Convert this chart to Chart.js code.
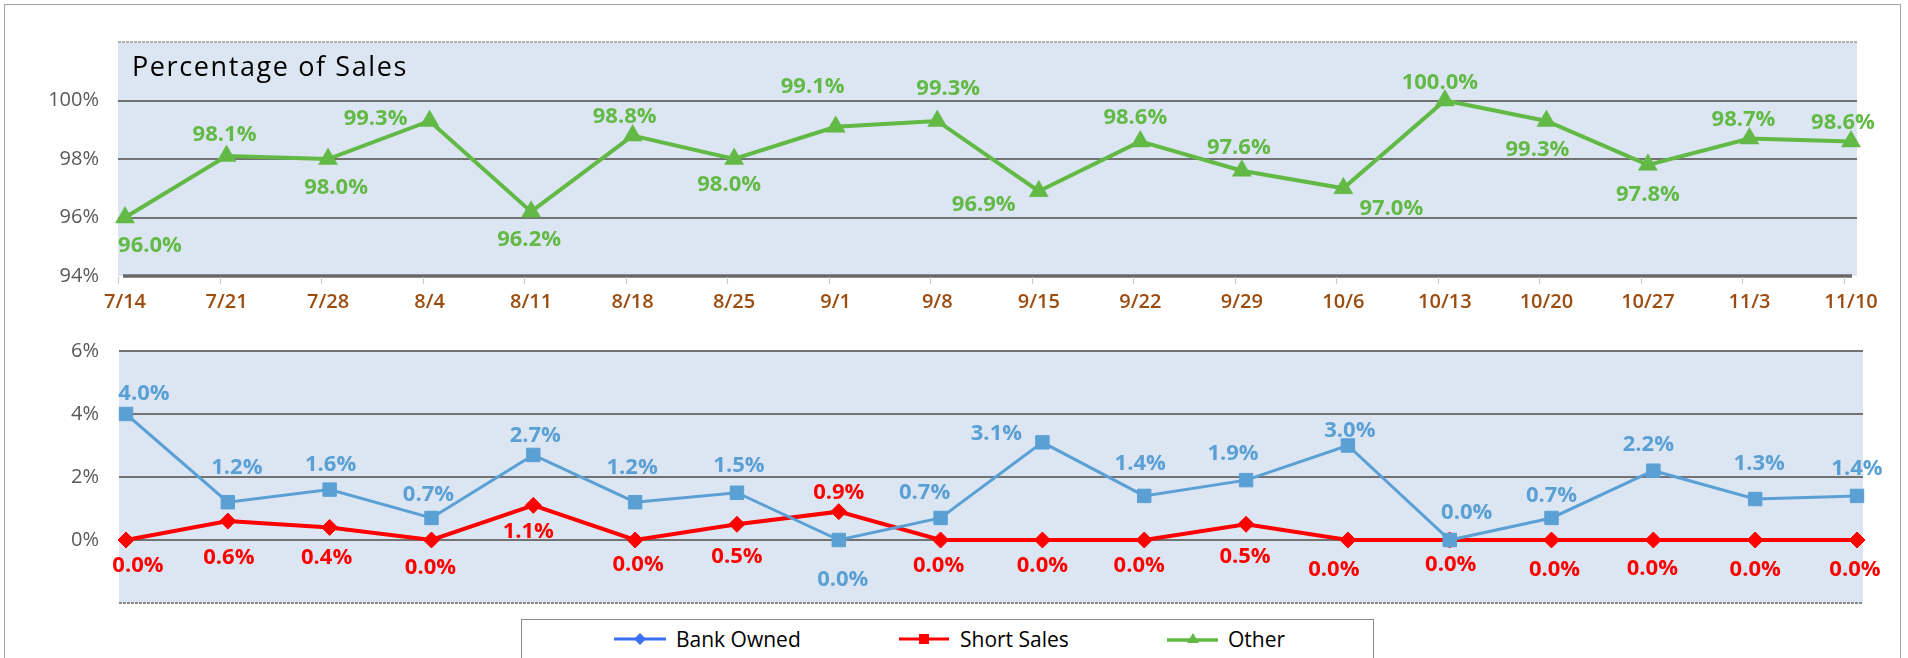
<!DOCTYPE html>
<html>
<head>
<meta charset="utf-8">
<script src="https://cdn.jsdelivr.net/npm/chart.js@4.4.0/dist/chart.umd.min.js"></script>
<style>
  html, body { margin:0; padding:0; background:#fff; width:1908px; height:658px; overflow:hidden; font-family:"Open Sans", sans-serif; }
  #frame { position:absolute; left:4px; top:4px; width:1897px; height:720px; border:1.5px solid #a3a3a3; box-sizing:border-box; }
  .wrap { position:absolute; left:0; width:1908px; }
  #topWrap { top:0; height:330px; }
  #botWrap { top:290px; height:368px; }
  #legend { position:absolute; left:521px; top:619px; width:853px; height:70px; border:1.5px solid #8c8c8c; background:#fff; box-sizing:border-box; }
  .item { position:absolute; top:624px; height:30px; display:flex; align-items:center; font-size:21px; color:#000; white-space:nowrap; }
  .item svg { display:block; }
</style>
</head>
<body>
<div id="frame"></div>
<div class="wrap" id="topWrap"><canvas id="topChart" width="1908" height="330"></canvas></div>
<div class="wrap" id="botWrap"><canvas id="botChart" width="1908" height="368"></canvas></div>
<div id="legend"></div>
<div class="item" style="left:614px;">
  <svg width="52" height="14" viewBox="0 0 52 14"><line x1="0" y1="7" x2="52" y2="7" stroke="#3C6DF5" stroke-width="3"/><polygon points="26,1 32,7 26,13 20,7" fill="#3C6DF5"/></svg>
  <span style="margin-left:10px">Bank Owned</span>
</div>
<div class="item" style="left:899px;">
  <svg width="50" height="14" viewBox="0 0 50 14"><line x1="0" y1="7" x2="50" y2="7" stroke="#FF0000" stroke-width="3"/><rect x="20" y="2" width="10" height="10" fill="#FF0000"/></svg>
  <span style="margin-left:11px">Short Sales</span>
</div>
<div class="item" style="left:1167px;">
  <svg width="51" height="14" viewBox="0 0 51 14"><line x1="0" y1="8" x2="51" y2="8" stroke="#62B946" stroke-width="3.5"/><polygon points="26,1 32,11 20,11" fill="#62B946"/></svg>
  <span style="margin-left:10px">Other</span>
</div>

<script>
// ---------- data ----------
const weeks = ['7/14','7/21','7/28','8/4','8/11','8/18','8/25','9/1','9/8','9/15','9/22','9/29','10/6','10/13','10/20','10/27','11/3','11/10'];
const otherPct = [96.0, 98.1, 98.0, 99.3, 96.2, 98.8, 98.0, 99.1, 99.3, 96.9, 98.6, 97.6, 97.0, 100.0, 99.3, 97.8, 98.7, 98.6];
const bankOwnedPct = [4.0, 1.2, 1.6, 0.7, 2.7, 1.2, 1.5, 0.0, 0.7, 3.1, 1.4, 1.9, 3.0, 0.0, 0.7, 2.2, 1.3, 1.4];
const shortSalesPct = [0.0, 0.6, 0.4, 0.0, 1.1, 0.0, 0.5, 0.9, 0.0, 0.0, 0.0, 0.5, 0.0, 0.0, 0.0, 0.0, 0.0, 0.0];
const topTickValues = [94, 96, 98, 100];
const bottomTickValues = [0, 2, 4, 6];
const chartTitle = 'Percentage of Sales';

// label placement (pixel offsets of each value label from its point)
const otherLabelDx = [25,-2,8,-54,-2,-8,-5,-23,11,-55,-5,-3,48,-5,-9,0,-6,-8];
const otherLabelDy = [26,-23,27,-4,26,-21,24,-42,-34,12,-25,-25,19,-20,27,28,-21,-20];
const bankLabelDx = [18,9,1,-3,2,-3,2,4,-16,-46,-4,-13,2,17,0,-5,4,0];
const bankLabelDy = [-22,-36,-27,-25,-21,-36,-29,38,-27,-10,-34,-28,-17,-29,-24,-28,-37,-29];
const shortLabelDx = [12,1,-3,-1,-5,3,0,0,-2,0,-5,-1,-14,1,3,-1,0,-2];
const shortLabelDy = [24,35,29,26,25,23,31,-21,24,24,24,31,28,23,28,27,28,28];

const GREEN = '#62B946', BLUE = '#5BA0D5', RED = '#FF0000';
const FONT = '"Open Sans", sans-serif';

// ---------- plugins ----------
const plotDecor = (opts) => ({
  id: 'plotDecor',
  beforeDraw(chart) {
    const {ctx, chartArea: a} = chart;
    const y = chart.scales.y;
    const L = a.left - 7, R = a.right + opts.rightExt;
    ctx.save();
    ctx.fillStyle = '#DCE6F2';
    ctx.fillRect(L, a.top, R - L, a.bottom - a.top);
    opts.grid.forEach(v => {
      const py = Math.round(y.getPixelForValue(v));
      ctx.strokeStyle = '#727272'; ctx.lineWidth = 2;
      ctx.beginPath(); ctx.moveTo(L, py); ctx.lineTo(R, py); ctx.stroke();
    });
    ctx.strokeStyle = opts.topColor; ctx.lineWidth = opts.topWidth;
    ctx.setLineDash(opts.topDash);
    ctx.beginPath(); ctx.moveTo(L, a.top); ctx.lineTo(R, a.top); ctx.stroke();
    ctx.setLineDash(opts.bottomDash);
    ctx.strokeStyle = opts.bottomColor; ctx.lineWidth = opts.bottomWidth;
    ctx.beginPath(); ctx.moveTo(L + opts.bottomInset, a.bottom); ctx.lineTo(R - opts.bottomInset, a.bottom); ctx.stroke();
    ctx.setLineDash([]);
    if (opts.tickMarks) {
      const x = chart.scales.x;
      ctx.strokeStyle = '#c9c9c9'; ctx.lineWidth = 1.2;
      for (let i = 0; i < weeks.length; i++) {
        const px = Math.round(x.getPixelForValue(i)) - 7 + 0.5;
        ctx.beginPath(); ctx.moveTo(px, a.bottom + 1); ctx.lineTo(px, a.bottom + 8); ctx.stroke();
      }
    }
    if (opts.title) {
      ctx.fillStyle = '#000';
      ctx.font = '500 27px ' + FONT;
      ctx.letterSpacing = '1.6px';
      ctx.textAlign = 'left'; ctx.textBaseline = 'alphabetic';
      ctx.fillText(opts.title, a.left + 7, a.top + 34);
      ctx.letterSpacing = '0px';
    }
    ctx.restore();
  }
});

const valueLabels = {
  id: 'valueLabels',
  afterDatasetsDraw(chart) {
    const ctx = chart.ctx;
    ctx.save();
    ctx.font = 'bold 22px ' + FONT;
    ctx.textAlign = 'center';
    ctx.textBaseline = 'alphabetic';
    chart.data.datasets.forEach((ds, di) => {
      const meta = chart.getDatasetMeta(di);
      ctx.fillStyle = ds.borderColor;
      meta.data.forEach((el, i) => {
        const txt = ds.data[i].toFixed(1) + '%';
        ctx.fillText(txt, el.x + ds.labelDx[i], el.y + ds.labelDy[i] + 8);
      });
    });
    ctx.restore();
  }
};

const yTicksFrom = (vals) => (scale) => { scale.ticks = vals.map(v => ({value: v})); };

// ---------- top chart ----------
new Chart(document.getElementById('topChart'), {
  type: 'line',
  data: {
    labels: weeks,
    datasets: [{
      label: 'Other',
      data: otherPct,
      borderColor: GREEN, backgroundColor: GREEN,
      borderWidth: 4, pointStyle: 'triangle', pointRadius: 11, pointBorderWidth: 0.5,
      tension: 0, labelDx: otherLabelDx, labelDy: otherLabelDy
    }]
  },
  options: {
    responsive: false, animation: false, devicePixelRatio: 1,
    layout: { padding: { top: 42, right: 57, left: 0, bottom: 0 } },
    plugins: { legend: { display: false }, tooltip: { enabled: false } },
    scales: {
      x: {
        type: 'category', offset: false,
        grid: { display: false, drawTicks: false }, border: { display: false },
        ticks: { color: '#9C4C0E', font: { family: FONT, size: 20, weight: '600' }, padding: 14, maxRotation: 0, autoSkip: false },
        afterFit: (s) => { s.height = 54; }
      },
      y: {
        min: 94, max: 102,
        grid: { display: false, drawTicks: false }, border: { display: false },
        afterBuildTicks: yTicksFrom(topTickValues),
        ticks: { color: '#595959', font: { family: FONT, size: 20 }, padding: 26, callback: (v) => v + '%' },
        afterFit: (s) => { s.width = 125; }
      }
    }
  },
  plugins: [plotDecor({ rightExt: 6, grid: [96, 98, 100], topColor: '#9a9a9a', topWidth: 1.5, topDash: [3, 1],
    bottomColor: '#686868', bottomWidth: 3.5, bottomDash: [], bottomInset: 5, tickMarks: true, title: chartTitle }), valueLabels]
});

// ---------- bottom chart ----------
new Chart(document.getElementById('botChart'), {
  type: 'line',
  data: {
    labels: weeks,
    datasets: [{
      label: 'Bank Owned',
      data: bankOwnedPct,
      borderColor: BLUE, backgroundColor: BLUE,
      borderWidth: 3, pointStyle: 'rect', pointRadius: 9.5, pointBorderWidth: 1,
      tension: 0, labelDx: bankLabelDx, labelDy: bankLabelDy, order: 0
    }, {
      label: 'Short Sales',
      data: shortSalesPct,
      borderColor: RED, backgroundColor: RED,
      borderWidth: 4, pointStyle: 'rectRot', pointRadius: 8, pointBorderWidth: 1,
      tension: 0, labelDx: shortLabelDx, labelDy: shortLabelDy, order: 1
    }]
  },
  options: {
    responsive: false, animation: false, devicePixelRatio: 1,
    layout: { padding: { top: 61, right: 51, left: 0, bottom: 55 } },
    plugins: { legend: { display: false }, tooltip: { enabled: false } },
    scales: {
      x: { type: 'category', offset: false, display: false },
      y: {
        min: -2, max: 6,
        grid: { display: false, drawTicks: false }, border: { display: false },
        afterBuildTicks: yTicksFrom(bottomTickValues),
        ticks: { color: '#595959', font: { family: FONT, size: 20 }, padding: 27, callback: (v) => v + '%' },
        afterFit: (s) => { s.width = 126; }
      }
    }
  },
  plugins: [plotDecor({ rightExt: 6, grid: [0, 2, 4], topColor: '#727272', topWidth: 2, topDash: [],
    bottomColor: '#8a8a8a', bottomWidth: 2, bottomDash: [3, 1], bottomInset: 0, tickMarks: false, title: null }), valueLabels]
});
</script>
</body>
</html>
